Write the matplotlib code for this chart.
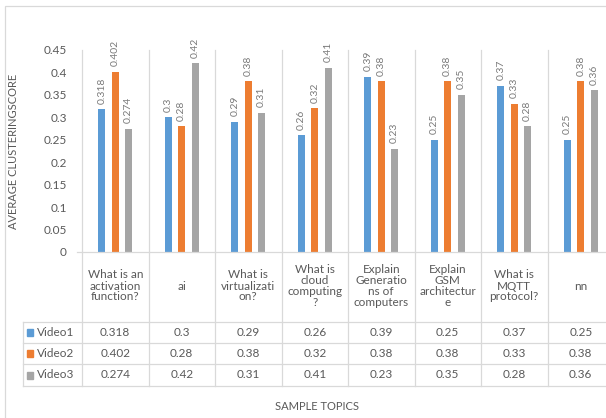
import matplotlib
matplotlib.use("Agg")
import matplotlib.pyplot as plt
from matplotlib.lines import Line2D
from matplotlib.patches import Rectangle
from matplotlib.transforms import blended_transform_factory
import numpy as np

plt.rcParams['font.family'] = ['Lato', 'DejaVu Sans']

categories = [
    "What is an\nactivation\nfunction?",
    "ai",
    "What is\nvirtualizati\non?",
    "What is\ncloud\ncomputing\n?",
    "Explain\nGeneratio\nns of\ncomputers",
    "Explain\nGSM\narchitectur\ne",
    "What is\nMQTT\nprotocol?",
    "nn",
]
series_names = ["Video1", "Video2", "Video3"]
video1 = [0.318, 0.3, 0.29, 0.26, 0.39, 0.25, 0.37, 0.25]
video2 = [0.402, 0.28, 0.38, 0.32, 0.38, 0.38, 0.33, 0.38]
video3 = [0.274, 0.42, 0.31, 0.41, 0.23, 0.35, 0.28, 0.36]
y_ticks = [0, 0.05, 0.1, 0.15, 0.2, 0.25, 0.3, 0.35, 0.4, 0.45]

colors = ["#5B9BD5", "#ED7D31", "#A5A5A5"]
text_color = "#595959"
grid_color = "#D9D9D9"

W, H = 606, 418
fig = plt.figure(figsize=(W / 100, H / 100), dpi=100)


def fx(px):
    return px / W


def fy(py):
    return 1 - py / H


# plot area (pixel geometry)
left, right, top, zero = 82, 614, 50, 252
ax = fig.add_axes([fx(left), fy(zero), fx(right) - fx(left), fy(top) - fy(zero)])
ax.set_xlim(0, len(categories))
ax.set_ylim(0, 0.45)
for s in ax.spines.values():
    s.set_visible(False)
ax.set_xticks([])
ax.set_yticks(y_ticks)
ax.set_yticklabels([f"{t:g}" for t in y_ticks])
ax.tick_params(axis="y", length=0, pad=11, labelsize=8.5, labelcolor=text_color)

series = [video1, video2, video3]
x = np.arange(len(categories)) + 0.5
bw = 0.105
for j, vals in enumerate(series):
    xs = x + (j - 1) * 0.2
    ax.bar(xs, vals, width=bw, color=colors[j], zorder=3)
    for xi, v in zip(xs, vals):
        ax.annotate(f"{v:g}", (xi, v), xytext=(0, 4), textcoords="offset points",
                    rotation=90, ha="center", va="bottom", fontsize=7.5,
                    color="#7a7a7a", annotation_clip=False)

# data table
tr = blended_transform_factory(ax.transData, fig.transFigure)
row_lines = [322, 343, 364, 386]
for i in range(len(categories) + 1):
    ax.plot([i, i], [fy(top), fy(row_lines[-1])], transform=tr, color=grid_color,
            lw=0.9, clip_on=False, zorder=1)
fig.add_artist(Line2D([fx(77), 1.0], [fy(zero), fy(zero)], color=grid_color, lw=0.9))
for ry in row_lines:
    fig.add_artist(Line2D([fx(23), 1.0], [fy(ry), fy(ry)], color=grid_color, lw=0.9))
fig.add_artist(Line2D([fx(23), fx(23)], [fy(row_lines[0]), fy(row_lines[-1])],
                      color=grid_color, lw=0.9))

for i, cat in enumerate(categories):
    ax.text(i + 0.5, fy((zero + row_lines[0]) / 2 - 1), cat, transform=tr,
            ha="center", va="center", fontsize=8.5, color=text_color,
            linespacing=1.0)

for j, (name, vals) in enumerate(zip(series_names, series)):
    yc = fy((row_lines[j] + row_lines[j + 1]) / 2)
    fig.add_artist(Rectangle((fx(27), yc - 3.5 / H), 6 / W, 7 / H,
                             color=colors[j], transform=fig.transFigure))
    fig.text(fx(37), yc, name, ha="left", va="center", fontsize=8.5,
             color=text_color)
    for i, v in enumerate(vals):
        ax.text(i + 0.5, yc, f"{v:g}", transform=tr, ha="center", va="center",
                fontsize=8.5, color=text_color)

# axis titles
fig.text(fx(14), fy(151), "AVERAGE CLUSTERINGSCORE", rotation=90,
         ha="center", va="center", fontsize=8, color=text_color)
fig.text(fx(317), fy(406), "SAMPLE TOPICS", ha="center", va="center",
         fontsize=8, color=text_color)

# chart frame
fig.add_artist(Rectangle((fx(5), fy(430)), 1.0, fy(6) - fy(430), fill=False,
                         edgecolor=grid_color, lw=0.9, transform=fig.transFigure))

fig.savefig("out.png", dpi=100, facecolor="white")
